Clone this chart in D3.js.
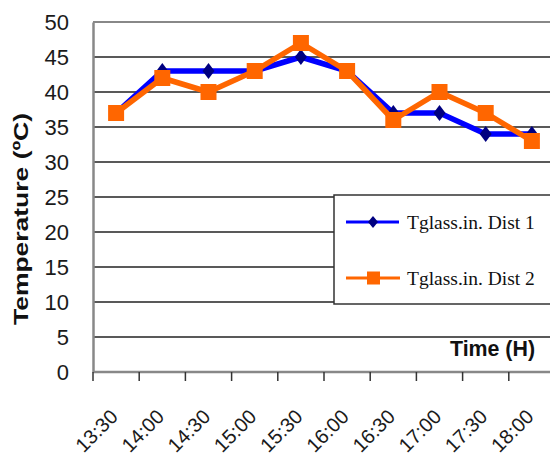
<!DOCTYPE html>
<html><head><meta charset="utf-8">
<script src="https://cdn.jsdelivr.net/npm/d3@7"></script>
<style>body{margin:0;background:#fff;}svg{display:block;}</style>
</head><body>
<svg id="c" width="550" height="461"></svg>
<script>
const categories = ["13:30","14:00","14:30","15:00","15:30","16:00","16:30","17:00","17:30","18:00"];
const dist1 = [37, 43, 43, 43, 45, 43, 37, 37, 34, 34];
const dist2 = [37, 42, 40, 43, 47, 43, 36, 40, 37, 33];
const yTicks = [0,5,10,15,20,25,30,35,40,45,50];
const seriesNames = ["Tglass.in. Dist 1", "Tglass.in. Dist 2"];

(function () {
const svg = d3.select("#c");
const pL = 93, pT = 22, pB = 372, pR = 555;
const x = d3.scaleBand().domain(categories).range([pL, pR]);
const y = d3.scaleLinear().domain([0, 50]).range([pB, pT]);
const sans = "Arial, 'Liberation Sans', sans-serif";

// gridlines
svg.append("g").selectAll("line").data(yTicks.filter(d => d > 0 && d < 50)).join("line")
  .attr("x1", pL).attr("x2", pR).attr("y1", d => y(d)).attr("y2", d => y(d))
  .attr("stroke", "#222").attr("stroke-width", 1.5);
// top border
svg.append("line").attr("x1", pL).attr("x2", pR).attr("y1", y(50)).attr("y2", y(50))
  .attr("stroke", "#888").attr("stroke-width", 2);

// y axis
const yAxis = svg.append("g").attr("transform", `translate(${pL},0)`)
  .call(d3.axisLeft(y).tickValues(yTicks).tickSize(0).tickPadding(24));
yAxis.select(".domain").attr("stroke", "#888").attr("stroke-width", 2.5);
yAxis.selectAll("text").attr("font-family", sans)
  .attr("font-size", 22).attr("fill", "#1a1a1a");

// x axis with ticks at band boundaries
const xAxisG = svg.append("g").attr("transform", `translate(0,${pB})`);
xAxisG.append("line").attr("x1", pL).attr("x2", pR).attr("stroke", "#888").attr("stroke-width", 2.5);
xAxisG.selectAll("line.t").data(categories).join("line").attr("class", "t")
  .attr("x1", d => x(d)).attr("x2", d => x(d)).attr("y1", 0).attr("y2", 9)
  .attr("stroke", "#333").attr("stroke-width", 1.5);
xAxisG.selectAll("text").data(categories).join("text")
  .attr("transform", d => `translate(${x(d) + x.bandwidth() / 2 + 3},${46}) rotate(-45)`)
  .attr("text-anchor", "end")
  .attr("font-family", sans).attr("font-size", 20).attr("fill", "#1a1a1a")
  .text(d => d);

const cx = d => x(d) + x.bandwidth() / 2;
const line = d3.line().x(d => cx(d[0])).y(d => y(d[1]));
const diamondPath = (w, h) => `M0,${-h/2}L${w/2},0L0,${h/2}L${-w/2},0Z`;

// series 1
svg.append("path").datum(categories.map((c, i) => [c, dist1[i]])).attr("d", line)
  .attr("fill", "none").attr("stroke", "#0000ff").attr("stroke-width", 5.5).attr("stroke-linejoin", "round");
svg.append("g").selectAll("path").data(categories.map((c, i) => [c, dist1[i]])).join("path")
  .attr("d", diamondPath(12, 16)).attr("transform", d => `translate(${cx(d[0])},${y(d[1])})`).attr("fill", "#000080");

// series 2
svg.append("path").datum(categories.map((c, i) => [c, dist2[i]])).attr("d", line)
  .attr("fill", "none").attr("stroke", "#ff6600").attr("stroke-width", 5.5).attr("stroke-linejoin", "round");
svg.append("g").selectAll("rect").data(categories.map((c, i) => [c, dist2[i]])).join("rect")
  .attr("x", d => cx(d[0]) - 8).attr("y", d => y(d[1]) - 8).attr("width", 16).attr("height", 16)
  .attr("fill", "#ff6600");

// y title
svg.append("text").attr("transform", "translate(28,219) rotate(-90)").attr("text-anchor", "middle")
  .attr("font-family", sans).attr("font-weight", "bold").attr("font-size", 21)
  .attr("textLength", 212).attr("lengthAdjust", "spacingAndGlyphs")
  .attr("fill", "#111").text("Temperature (ºC)");

// x title
svg.append("text").attr("x", 535).attr("y", 356).attr("text-anchor", "end")
  .attr("font-family", sans).attr("font-weight", "bold").attr("font-size", 22)
  .attr("textLength", 85).attr("lengthAdjust", "spacingAndGlyphs")
  .attr("fill", "#111").text("Time (H)");

// legend
const lg = svg.append("g");
lg.append("rect").attr("x", 334).attr("y", 195).attr("width", 230).attr("height", 109)
  .attr("fill", "#fff").attr("stroke", "#333").attr("stroke-width", 1.5);
const rows = [222, 278];
lg.append("line").attr("x1", 346).attr("x2", 399).attr("y1", rows[0]).attr("y2", rows[0]).attr("stroke", "#0000ff").attr("stroke-width", 3);
lg.append("path").attr("d", diamondPath(10, 12)).attr("transform", `translate(373,${rows[0]})`).attr("fill", "#000080");
lg.append("line").attr("x1", 346).attr("x2", 400).attr("y1", rows[1]).attr("y2", rows[1]).attr("stroke", "#ff6600").attr("stroke-width", 3);
lg.append("rect").attr("x", 367).attr("y", rows[1] - 6.5).attr("width", 13).attr("height", 13).attr("fill", "#ff6600");
lg.selectAll("text").data(seriesNames).join("text")
  .attr("x", 407).attr("y", (d, i) => rows[i]).attr("dy", "0.35em")
  .attr("font-family", "'Liberation Serif', 'Times New Roman', serif").attr("font-size", 19.5).attr("fill", "#111")
  .text(d => d);
})();
</script>
</body></html>
